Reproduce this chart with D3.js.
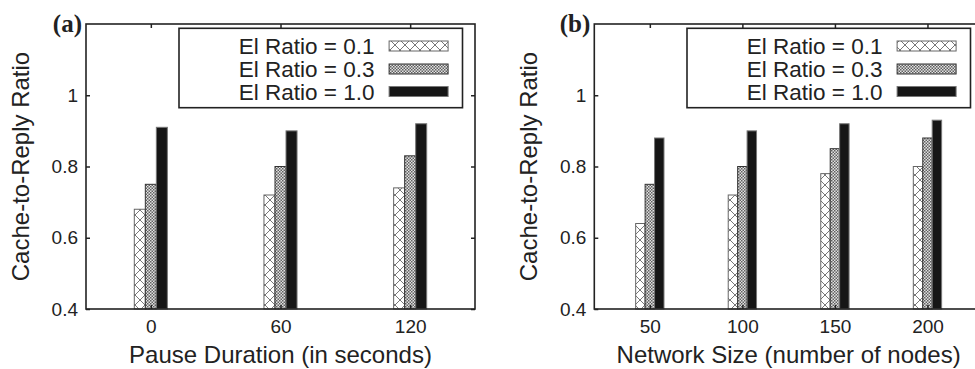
<!DOCTYPE html>
<html>
<head>
<meta charset="utf-8">
<script src="https://cdn.jsdelivr.net/npm/d3@7"></script>
<style>
  html, body { margin: 0; padding: 0; background: #fff; }
  svg { display: block; }
  text { font-family: "Liberation Sans", Arial, Helvetica, sans-serif; fill: #222; }
</style>
</head>
<body>
<svg id="chart" width="975" height="369"></svg>
<script>
// ---------- data ----------
const seriesNames = ["El Ratio = 0.1", "El Ratio = 0.3", "El Ratio = 1.0"];
const yTicks = [0.4, 0.6, 0.8, 1];

const pauseCategories = ["0", "60", "120"];
const pauseRatio01 = [0.68, 0.72, 0.74];
const pauseRatio03 = [0.75, 0.80, 0.83];
const pauseRatio10 = [0.91, 0.90, 0.92];

const sizeCategories = ["50", "100", "150", "200"];
const sizeRatio01 = [0.64, 0.72, 0.78, 0.80];
const sizeRatio03 = [0.75, 0.80, 0.85, 0.88];
const sizeRatio10 = [0.88, 0.90, 0.92, 0.93];

// ---------- setup ----------
const svg = d3.select("#chart");
const defs = svg.append("defs");

// crosshatch pattern (El Ratio 0.1)
const p1 = defs.append("pattern").attr("id", "hatch").attr("patternUnits", "userSpaceOnUse")
  .attr("width", 10).attr("height", 10);
p1.append("rect").attr("width", 10).attr("height", 10).attr("fill", "#fff");
p1.append("path").attr("d", "M0,0L10,10M10,0L0,10M-1,9L1,11M9,-1L11,1")
  .attr("stroke", "#555").attr("stroke-width", 0.8).attr("fill", "none");

// fine checker pattern (El Ratio 0.3)
const p2 = defs.append("pattern").attr("id", "checker").attr("patternUnits", "userSpaceOnUse")
  .attr("width", 3).attr("height", 3);
p2.append("rect").attr("width", 3).attr("height", 3).attr("fill", "#e2e2e2");
p2.append("rect").attr("width", 1.5).attr("height", 1.5).attr("fill", "#606060");
p2.append("rect").attr("x", 1.5).attr("y", 1.5).attr("width", 1.5).attr("height", 1.5).attr("fill", "#606060");

const fills = ["url(#hatch)", "url(#checker)", "#161616"];
const strokes = ["#666", "#333", "#777"];

function drawPanel(cfg) {
  const { left, right, top, bottom, xDomain, categories, series, barW, label, xTitle } = cfg;
  const g = svg.append("g");
  const x = d3.scaleLinear().domain(xDomain).range([left, right]);
  const y = d3.scaleLinear().domain([0.4, 1.2]).range([bottom, top]);
  const idx = categories.map((_, i) => i);

  // bars
  series.forEach((vals, s) => {
    g.append("g").selectAll("rect").data(vals).join("rect")
      .attr("x", (d, i) => x(i + (s - 1.5) * barW))
      .attr("width", (d, i) => x(i + (s - 0.5) * barW) - x(i + (s - 1.5) * barW))
      .attr("y", d => y(d))
      .attr("height", d => y(0.4) - y(d))
      .attr("fill", fills[s])
      .attr("stroke", strokes[s])
      .attr("stroke-width", 1);
  });

  // axes (inward ticks)
  const yAxis = g.append("g").attr("transform", `translate(${left},0)`)
    .call(d3.axisLeft(y).tickValues(yTicks).tickSize(-4).tickPadding(8).tickFormat(d3.format("~g")));
  yAxis.select(".domain").remove();
  yAxis.selectAll("line").attr("stroke", "#222").attr("stroke-width", 1.5);
  yAxis.selectAll("text").style("font-size", "19px").attr("fill", "#222");

  const yAxisR = g.append("g").attr("transform", `translate(${right},0)`)
    .call(d3.axisRight(y).tickValues(yTicks).tickSize(-4).tickFormat(""));
  yAxisR.select(".domain").remove();
  yAxisR.selectAll("line").attr("stroke", "#222").attr("stroke-width", 1.5);

  const xAxis = g.append("g").attr("transform", `translate(0,${bottom})`)
    .call(d3.axisBottom(x).tickValues(idx).tickSize(-4).tickPadding(11).tickFormat(i => categories[i]));
  xAxis.select(".domain").remove();
  xAxis.selectAll("line").attr("stroke", "#222").attr("stroke-width", 1.5);
  xAxis.selectAll("text").style("font-size", "19px").attr("fill", "#222");

  const xAxisT = g.append("g").attr("transform", `translate(0,${top})`)
    .call(d3.axisTop(x).tickValues(idx).tickSize(-4).tickFormat(""));
  xAxisT.select(".domain").remove();
  xAxisT.selectAll("line").attr("stroke", "#222").attr("stroke-width", 1.5);

  // frame
  g.append("rect").attr("x", left).attr("y", top).attr("width", right - left).attr("height", bottom - top)
    .attr("fill", "none").attr("stroke", "#222").attr("stroke-width", 1.6);

  // legend
  const boxR = right - 12.5;
  const boxL = boxR - 283.5;
  g.append("rect").attr("x", boxL).attr("y", 28.3).attr("width", boxR - boxL).attr("height", 79.4)
    .attr("fill", "#fff").attr("stroke", "#222").attr("stroke-width", 1.6);
  const rowC = [46, 69, 91.5];
  seriesNames.forEach((name, s) => {
    g.append("text").attr("x", boxR - 88).attr("y", rowC[s] + 8)
      .attr("text-anchor", "end").style("font-size", "22.5px").text(name);
    g.append("rect").attr("x", boxR - 73.4).attr("y", rowC[s] - 5).attr("width", 59).attr("height", 10)
      .attr("fill", fills[s]).attr("stroke", strokes[s]).attr("stroke-width", 1);
  });

  // titles
  g.append("text").attr("x", (left + right) / 2).attr("y", 362.5)
    .attr("text-anchor", "middle").style("font-size", "24px").text(xTitle);
  g.append("text").attr("transform", `translate(${left - 57},${(top + bottom) / 2}) rotate(-90)`)
    .attr("text-anchor", "middle").style("font-size", "24px").text("Cache-to-Reply Ratio");

  // panel label
  g.append("text").attr("x", left - 4).attr("y", 32).attr("text-anchor", "end")
    .style("font-family", "'Liberation Serif', 'Times New Roman', serif")
    .style("font-weight", "bold").style("font-size", "25px").attr("fill", "#111").text(label);
}

drawPanel({
  left: 86, right: 475, top: 24, bottom: 309,
  xDomain: [-0.5, 2.5], categories: pauseCategories,
  series: [pauseRatio01, pauseRatio03, pauseRatio10],
  barW: 0.085, label: "(a)", xTitle: "Pause Duration (in seconds)"
});
drawPanel({
  left: 594.3, right: 983, top: 24, bottom: 309,
  xDomain: [-0.6, 3.6], categories: sizeCategories,
  series: [sizeRatio01, sizeRatio03, sizeRatio10],
  barW: 0.102, label: "(b)", xTitle: "Network Size (number of nodes)"
});
</script>
</body>
</html>
